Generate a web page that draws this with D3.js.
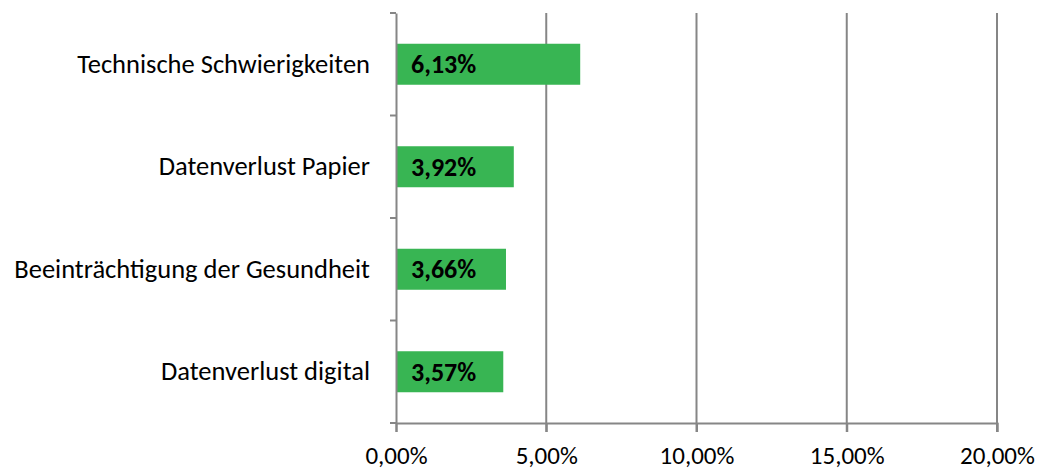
<!DOCTYPE html>
<html><head><meta charset="utf-8">
<script src="https://cdn.jsdelivr.net/npm/d3@7"></script>
<style>body{margin:0;background:#fff}svg{display:block}text{font-family:Carlito,Calibri,Lato,sans-serif}</style>
</head><body>
<svg id="c" width="1047" height="470"></svg>
<script>
const categories = ["Technische Schwierigkeiten","Datenverlust Papier","Beeinträchtigung der Gesundheit","Datenverlust digital"];
const values = [6.13, 3.92, 3.66, 3.57];
const xTicks = [0, 5, 10, 15, 20];
const fmt = v => v.toFixed(2).replace(".", ",") + "%";

(function(){
const svg = d3.select("#c");
const pl = 396, pr = 997, pt = 13, pb = 423;
const x = d3.scaleLinear().domain([0, 20]).range([pl, pr]);
const y = d3.scaleBand().domain(categories).range([pt, pb]).paddingInner(0.6).paddingOuter(0.3);
const grey = "#868686";

svg.append("g").selectAll("line").data(xTicks.slice(1)).join("line")
  .attr("x1", d => x(d)).attr("x2", d => x(d)).attr("y1", pt).attr("y2", pb + 9)
  .attr("stroke", grey).attr("stroke-width", 2);

svg.append("g").selectAll("rect").data(values).join("rect")
  .attr("x", x(0)).attr("y", (d, i) => y(categories[i]))
  .attr("width", d => x(d) - x(0)).attr("height", y.bandwidth())
  .attr("fill", "#38b553");

const xa = svg.append("g").attr("transform", `translate(0,${pb})`)
  .call(d3.axisBottom(x).tickValues(xTicks).tickFormat(fmt).tickSize(9).tickPadding(14));
xa.select(".domain").attr("stroke", grey).attr("stroke-width", 2);
xa.selectAll(".tick line").attr("stroke", grey).attr("stroke-width", 2);
xa.selectAll(".tick text").attr("fill", "#000").style("font-size", "25px");

const yb = d3.scaleBand().domain(categories).range([pt, pb]);
const ya = svg.append("g").attr("transform", `translate(${pl},0)`)
  .call(d3.axisLeft(yb).tickSize(0).tickPadding(26));
ya.select(".domain").attr("stroke", grey).attr("stroke-width", 2);
ya.selectAll(".tick text").attr("fill", "#000").style("font-size", "26.5px");
const bounds = [pt].concat(categories.map(c => yb(c) + yb.bandwidth()));
ya.append("g").selectAll("line").data(bounds).join("line")
  .attr("x1", -6).attr("x2", 0).attr("y1", d => d).attr("y2", d => d)
  .attr("stroke", grey).attr("stroke-width", 2);

svg.append("g").selectAll("text").data(values).join("text")
  .attr("x", x(0) + 15).attr("y", (d, i) => y(categories[i]) + y.bandwidth() / 2)
  .attr("dy", "0.35em").attr("font-weight", "bold").style("font-size", "26px")
  .attr("fill", "#000").text(fmt);
})();
</script>
</body></html>
